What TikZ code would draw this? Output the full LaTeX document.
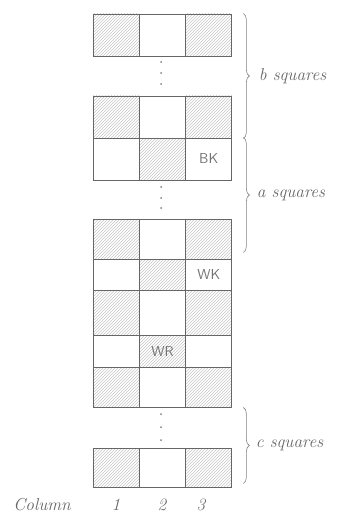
\documentclass[tikz,border=0pt]{standalone}
\usepackage{amsmath}
\usepackage{xcolor}
\usepackage{tikz}
\usetikzlibrary{positioning, patterns, decorations.pathreplacing}

\begin{document}
\begin{tikzpicture}[x=1pt, y=-1pt,
    cell/.style={rectangle, draw=black!60, line width=0.9pt, minimum width=46.3pt, inner sep=0pt},
    hatch1/.style={fill=black!4, pattern=north east lines, pattern color=black!22},
    hatch0/.style={},
    piece/.style={text=black!55, font=\sffamily\Large},
    sidebrace/.style={draw=black!50, line width=0.6pt, decorate, decoration={brace, amplitude=6pt}},
    hand/.style={text=black!60, font=\itshape\LARGE}]
  \useasboundingbox (0,0) rectangle (343,516);

  % rows of the board: top/bottom/hatching
  \foreach \top/\bot/\sh [count=\r] in {14/56/1, 96/138/1, 138/180/0, 219/259/1, 259/290/0,
      290/335/1, 335/367/0, 367/407/1, 448/487/1} {
    \pgfmathsetmacro{\h}{\bot-\top}
    \pgfmathsetmacro{\m}{(\top+\bot)/2}
    \foreach \c in {1,2,3} {
      \pgfmathtruncatemacro{\shade}{mod(\c+\sh,2)==0 ? 1 : 0}
      \node[cell, hatch\shade, minimum height=\h pt] (r\r-\c) at ({93+46.3*(\c-0.5)},\m) {};
    }
  }

  \node[piece] (bk) at (r3-3) {BK};
  \node[piece] (wk) at (r5-3) {WK};
  \node[piece] (wr) at (r7-2) {WR};

  % vertical dots
  \foreach \y in {62,73,84, 187,198,208, 414,427,440}
    \fill[black!50] (161,\y) circle (1pt);

  \draw[sidebrace] ([xshift=11pt]r1-3.north east) -- ([xshift=11pt]r2-3.south east)
    node[hand, midway, right=12pt] (blabel) {b squares};
  \draw[sidebrace] ([xshift=11pt]r3-3.north east) -- ([shift={(11pt,7pt)}]r4-3.south east)
    node[hand, midway, right=10pt] (alabel) {a squares};
  \draw[sidebrace] ([xshift=11pt]r8-3.south east) -- ([shift={(11pt,4pt)}]r9-3.south east)
    node[hand, midway, right=9pt] (clabel) {c squares};

  \node[hand] (col) at (42,505) {Column};
  \node[hand] (n1) at (116,505) {1};
  \node[hand] (n2) at (162,505) {2};
  \node[hand] (n3) at (201,505) {3};
\end{tikzpicture}
\end{document}
